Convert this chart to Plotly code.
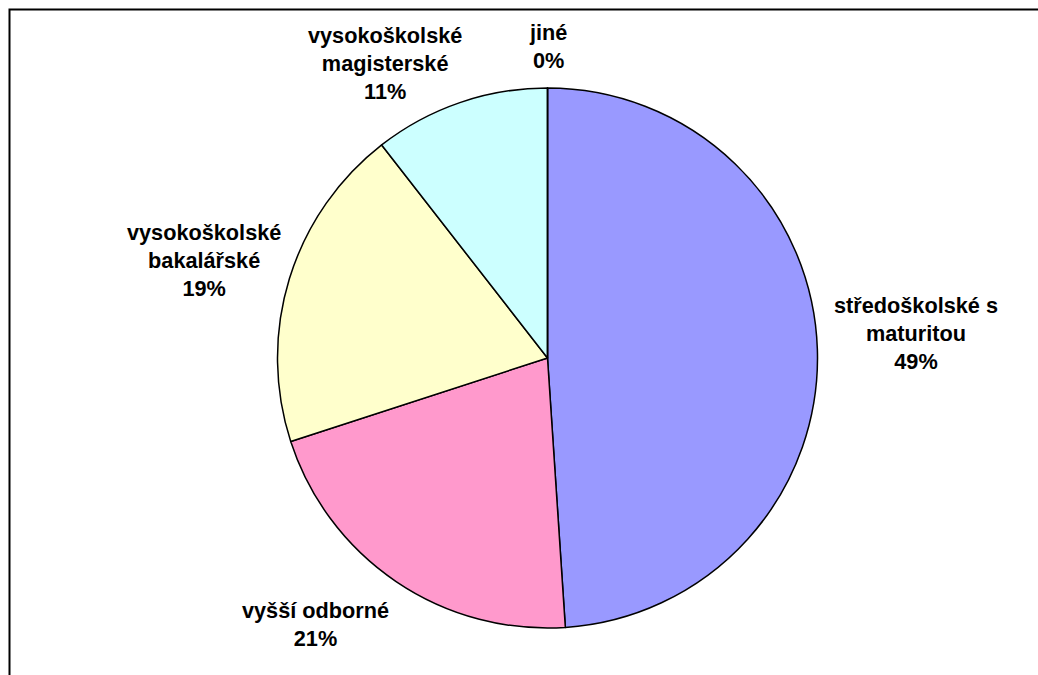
import plotly.graph_objects as go

# Education level breakdown
categories = [
    "středoškolské s maturitou",
    "vyšší odborné",
    "vysokoškolské bakalářské",
    "vysokoškolské magisterské",
    "jiné",
]
label_lines = [
    ["středoškolské s", "maturitou"],
    ["vyšší odborné"],
    ["vysokoškolské", "bakalářské"],
    ["vysokoškolské", "magisterské"],
    ["jiné"],
]
counts = [93, 40, 37, 20, 0]
colors = ["#9999FF", "#FF99CC", "#FFFFCC", "#CCFFFF", "#FFFFFF"]

# label anchor points in pixels (centre of each text block)
label_px = [(916, 333), (315, 624), (204, 260), (385, 63), (548, 46)]

W, H = 1038, 675
total = sum(counts)


def px_x(x):
    return x / W


def px_y(y):
    return 1 - y / H


fig = go.Figure()
fig.add_trace(
    go.Pie(
        labels=categories,
        values=counts,
        sort=False,
        direction="clockwise",
        rotation=0,
        marker=dict(colors=colors, line=dict(color="#000000", width=1.5)),
        textinfo="none",
        hoverinfo="label+percent",
        showlegend=False,
        domain=dict(x=[px_x(277), px_x(818)], y=[px_y(628), px_y(88)]),
    )
)

for lines, v, (lx, ly) in zip(label_lines, counts, label_px):
    pct = f"{round(v / total * 100):.0f}%"
    text = "<br>".join(lines + [pct])
    fig.add_annotation(
        x=px_x(lx), y=px_y(ly), xref="paper", yref="paper",
        text=text, showarrow=False, align="center",
        xanchor="center", yanchor="middle",
        font=dict(family="Liberation Sans, Arial, sans-serif", size=21.7,
                  color="#000000", weight="bold"),
    )

# chart frame
fig.add_shape(
    type="rect", xref="paper", yref="paper",
    x0=px_x(9.5), x1=1.05, y0=-0.05, y1=px_y(9.5),
    line=dict(color="#000000", width=2), fillcolor="rgba(0,0,0,0)",
)

fig.update_layout(
    width=W, height=H,
    margin=dict(l=0, r=0, t=0, b=0),
    paper_bgcolor="#FFFFFF", plot_bgcolor="#FFFFFF",
)

fig.write_html("out.html")
